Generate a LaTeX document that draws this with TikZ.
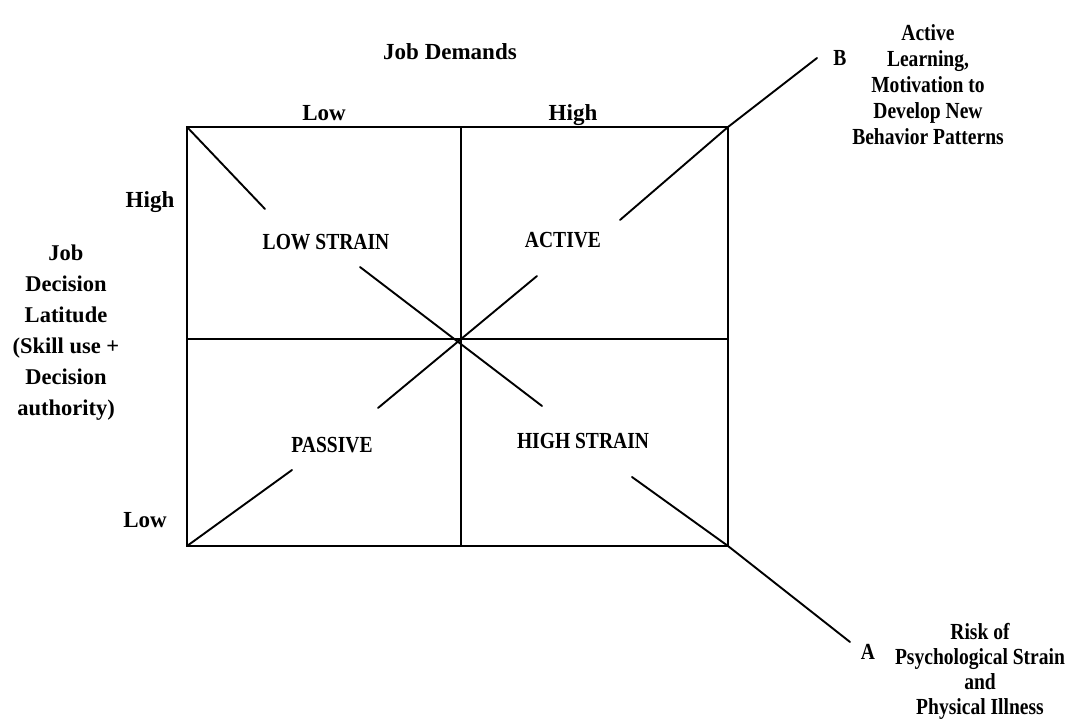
\documentclass[tikz,border=0pt]{standalone}
\usepackage{fontspec}
\setmainfont{Liberation Serif}
\newfontfamily\narrowserif{Liberation Serif}[FakeStretch=0.85]
\usetikzlibrary{calc}

\tikzset{
  axislabel/.style={font=\bfseries\fontsize{23}{31}\selectfont, inner sep=0pt, align=center},
  levellabel/.style={axislabel, anchor=base},
  quadlabel/.style={font=\narrowserif\bfseries\fontsize{23}{26}\selectfont, inner sep=0pt, align=center},
  grid line/.style={line width=1.9pt, line cap=round}
}

\begin{document}
\begin{tikzpicture}[x=1pt, y=-1pt]
  \useasboundingbox (0,0) rectangle (1078,719);
  % frame and quadrants
  \coordinate (TL) at (187,127);
  \coordinate (TR) at (728,127);
  \coordinate (BL) at (187,546);
  \coordinate (BR) at (728,546);
  \coordinate (TM) at (461,127);
  \coordinate (BM) at (461,546);
  \coordinate (LM) at (187,339);
  \coordinate (RM) at (728,339);
  \draw[grid line] (TL) rectangle (BR);
  \draw[grid line] (TM) -- (BM);
  \draw[grid line] (LM) -- (RM);
  % axis labels
  \node[axislabel] (demands) at (450,52) {Job Demands};
  \node[levellabel] (dlow) at (324,121) {Low};
  \node[levellabel] (dhigh) at (573,121) {High};
  \node[levellabel] (lhigh) at (150,208) {High};
  \node[levellabel] (llow) at (145,527) {Low};
  \node[axislabel, font=\bfseries\fontsize{22.5}{31}\selectfont] (latitude) at (66,333)
    {Job\\Decision\\Latitude\\(Skill use +\\Decision\\authority)};
  % quadrant labels
  \node[quadlabel] (lowstrain) at (326,242) {LOW STRAIN};
  \node[quadlabel] (active) at (563,240) {ACTIVE};
  \node[quadlabel] (passive) at (332,445) {PASSIVE};
  \node[quadlabel] (highstrain) at (583,441) {HIGH STRAIN};
  % outcomes
  \node[quadlabel] (B) at (840,58) {B};
  \node[quadlabel] (learning) at (928,85)
    {Active\\Learning,\\Motivation to\\Develop New\\Behavior Patterns};
  \node[quadlabel] (A) at (868,652) {A};
  \node[quadlabel, font=\narrowserif\bfseries\fontsize{23}{25}\selectfont] (risk) at (980,671)
    {Risk of\\Psychological Strain\\and\\Physical Illness};
  % diagonals
  \coordinate (ls1) at (265,209);
  \coordinate (ls2) at (360,267);
  \coordinate (hs1) at (542,406);
  \coordinate (hs2) at (632,477);
  \coordinate (ps1) at (292,470);
  \coordinate (ps2) at (378,408);
  \coordinate (ac1) at (537,276);
  \coordinate (ac2) at (620,220);
  \coordinate (Bend) at (817,58);
  \coordinate (Aend) at (850,642);
  \draw[grid line] (TL) -- (ls1);
  \draw[grid line] (ls2) -- (hs1);
  \draw[grid line] (ps2) -- (ac1);
  \draw[grid line] (BL) -- (ps1);
  \draw[grid line] (ac2) -- (TR) -- (Bend);
  \draw[grid line] (hs2) -- (BR) -- (Aend);
\end{tikzpicture}
\end{document}
